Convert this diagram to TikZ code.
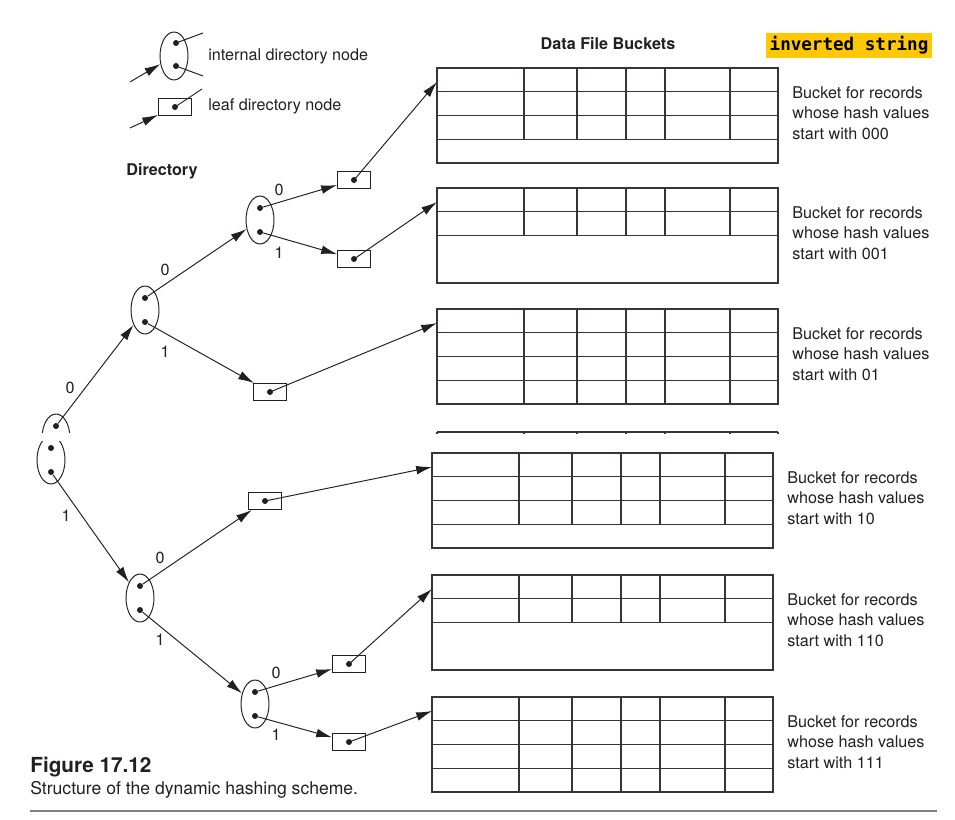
\documentclass[tikz,border=0pt]{standalone}
\usepackage{fontspec}
\setmainfont{TeX Gyre Heros}
\newfontfamily\codefont{DejaVu Sans Mono}
\usetikzlibrary{arrows.meta, shapes.geometric}
\definecolor{hilite}{RGB}{255,200,0}
\definecolor{ink}{RGB}{35,31,32}

\begin{document}
\begin{tikzpicture}[x=0.02cm, y=-0.02cm,
    every node/.style={text=ink},
    inner/.style={ellipse, draw=ink, line width=0.55pt, minimum width=0.56cm, minimum height=0.96cm, inner sep=0pt},
    leaf/.style={rectangle, draw=ink, line width=0.55pt, minimum width=0.66cm, minimum height=0.34cm, inner sep=0pt},
    dot/.style={circle, fill=ink, inner sep=0pt, minimum size=3.4pt},
    link/.style={draw=ink, line width=0.55pt, -{Latex[length=9pt, width=5pt]}},
    wire/.style={draw=ink, line width=0.55pt},
    cell/.style={draw=ink!90, line width=0.75pt},
    bit/.style={font=\fontsize{9.2}{11}\selectfont, inner sep=0pt},
    txt/.style={font=\fontsize{9.2}{11.6}\selectfont, align=left, anchor=west, inner sep=0pt}]

        \useasboundingbox (0,0) rectangle (955,820);

        % legend
        \node[inner] (li) at (174,56) {};
        \node[dot] (li0) at (176,43) {};
        \node[dot] (li1) at (176,66) {};
        \coordinate (li0e) at (203,33);
        \coordinate (li1e) at (203,76);
        \coordinate (lis) at (130,82);
        \draw[wire] (li0.center) -- (li0e);
        \draw[wire] (li1.center) -- (li1e);
        \draw[link] (lis) -- (li);
        \node[txt] (lit) at (208,56) {internal directory node};

        \node[leaf] (ll) at (175,107) {};
        \node[dot] (lld) at (ll) {};
        \coordinate (lle) at (202,89);
        \coordinate (lls) at (130,128);
        \draw[wire] (lld.center) -- (lle);
        \draw[link] (lls) -- (ll);
        \node[txt] (llt) at (208,106) {leaf directory node};

        \node[txt, anchor=center, font=\fontsize{9.2}{11}\selectfont\bfseries] (dir) at (162,171) {Directory};
        \node[txt, anchor=center, font=\fontsize{9.2}{11}\selectfont\bfseries] (dfb) at (608,44) {Data File Buckets};
        \node[fill=hilite, minimum width=95pt, minimum height=14pt, inner sep=0pt,
              font=\codefont\bfseries\fontsize{10}{12}\selectfont, text=black] (inv) at (849,45.5) {inverted string};

        % buckets
        \foreach \bx/\by/\nr/\suf [count=\i] in {437/68/3/000, 437/188/2/001, 437/309/4/01,
                                                 432/453/3/10, 432/575/2/110, 432/697/4/111} {
          \draw[cell] (\bx,\by) rectangle ++(341,95);
          \foreach \k in {1,...,\nr} \draw[cell] (\bx,\by+23.75*\k) -- ++(341,0);
          \foreach \c in {87,140,189,228,293} \draw[cell] (\bx+\c,\by) -- ++(0,23.75*\nr);
          \coordinate (bk\i) at (\bx,\by+14);
          \node[txt] (bt\i) at (\bx+355,\by+45) {Bucket for records\\whose hash values\\start with \suf};
        }
        \draw[cell] (437,432) -- (778,432);
        \foreach \c in {0,87,140,189,228,293,341} \draw[cell] (437+\c,432) -- ++(0,1.5);

        % directory, upper part
        \begin{scope}
          \clip (0,400) rectangle (120,432);
          \node[inner] (rootup) at (56,438) {};
        \end{scope}
        \node[dot] (r0) at (56,426) {};

        \node[inner] (A) at (145,310) {};
        \node[dot] (a0) at (145,298) {};
        \node[dot] (a1) at (145,322) {};
        \node[inner] (B) at (260,220) {};
        \node[dot] (b0) at (260,208) {};
        \node[dot] (b1) at (260,232) {};

        \node[leaf] (l000) at (354,180) {};
        \node[dot] (l000d) at (l000) {};
        \node[leaf] (l001) at (354,259) {};
        \node[dot] (l001d) at (l001) {};
        \node[leaf] (l01) at (270,392) {};
        \node[dot] (l01d) at (l01) {};

        \draw[link] (r0) -- (A);
        \draw[link] (a0) -- (B);
        \draw[link] (a1) -- (l01);
        \draw[link] (b0) -- (l000);
        \draw[link] (b1) -- (l001);
        \draw[link] (l000d.center) -- (bk1);
        \draw[link] (l001d.center) -- (bk2);
        \draw[link] (l01d.center) -- (bk3);

        \node[bit] (e0) at (70,388) {0};
        \node[bit] (ea0) at (165,270) {0};
        \node[bit] (ea1) at (165,352) {1};
        \node[bit] (eb0) at (279,190) {0};
        \node[bit] (eb1) at (279,253) {1};

        % directory, lower part
        \begin{scope}
          \clip (0,441) rectangle (120,520);
          \node[inner] (root) at (51,460) {};
        \end{scope}
        \node[dot] (rt0) at (51,448) {};
        \node[dot] (rt1) at (51,472) {};

        \node[inner] (C) at (140,598) {};
        \node[dot] (c0) at (140,586) {};
        \node[dot] (c1) at (140,610) {};
        \node[inner] (D) at (255,704) {};
        \node[dot] (d0) at (255,692) {};
        \node[dot] (d1) at (255,716) {};

        \node[leaf] (l10) at (265,501) {};
        \node[dot] (l10d) at (l10) {};
        \node[leaf] (l110) at (349,664) {};
        \node[dot] (l110d) at (l110) {};
        \node[leaf] (l111) at (349,742) {};
        \node[dot] (l111d) at (l111) {};

        \draw[link] (rt1) -- (C);
        \draw[link] (c0) -- (l10);
        \draw[link] (c1) -- (D);
        \draw[link] (d0) -- (l110);
        \draw[link] (d1) -- (l111);
        \draw[link] (l10d.center) -- (bk4);
        \draw[link] (l110d.center) -- (bk5);
        \draw[link] (l111d.center) -- (bk6);

        \node[bit] (e1) at (66,516) {1};
        \node[bit] (ec0) at (160,558) {0};
        \node[bit] (ec1) at (160,640) {1};
        \node[bit] (ed0) at (276,673) {0};
        \node[bit] (ed1) at (276,735) {1};

        % caption
        \node[anchor=base west, inner sep=0pt, font=\fontsize{11.8}{14}\selectfont\bfseries] (fig) at (30,772) {Figure 17.12};
        \node[anchor=base west, inner sep=0pt, font=\fontsize{10}{12}\selectfont] (cap) at (30,794) {Structure of the dynamic hashing scheme.};
        \coordinate (rulea) at (30,811);
        \coordinate (ruleb) at (937,811);
        \draw[black!50, line width=1.1pt] (rulea) -- (ruleb);

      \end{tikzpicture}
\end{document}
